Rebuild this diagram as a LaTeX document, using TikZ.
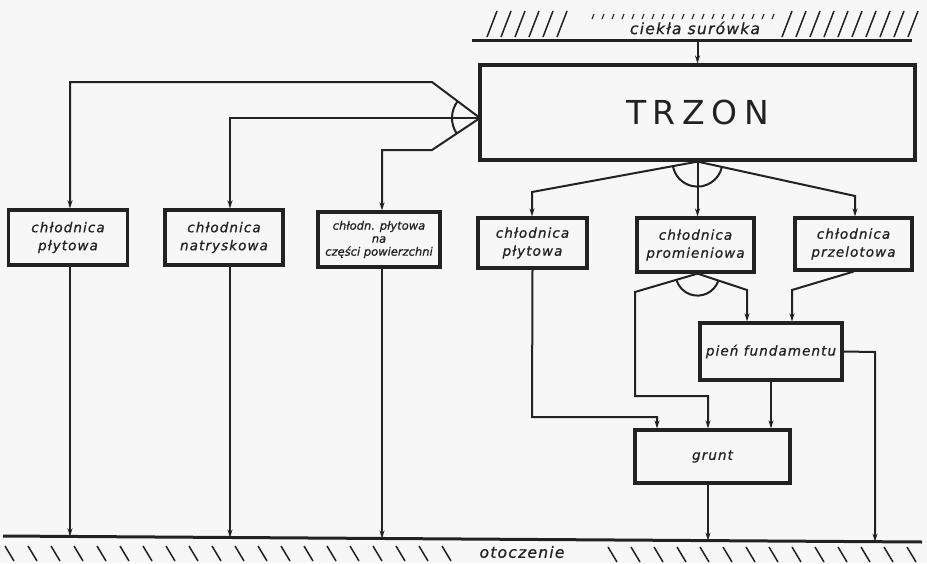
\documentclass[tikz,border=0pt]{standalone}
\usepackage{fontspec}
\newfontfamily\hw[LetterSpace=8,FakeBold=0.8]{DejaVu Sans}
\newfontfamily\hwn[LetterSpace=0,FakeBold=0.8]{DejaVu Sans}
\newfontfamily\tzf[LetterSpace=20]{DejaVu Sans}
\usetikzlibrary{arrows.meta,calc}
\definecolor{ink}{RGB}{34,34,34}
\definecolor{paper}{RGB}{247,247,247}
\begin{document}
\begin{tikzpicture}[x=1pt,y=-1pt,
  box/.style={draw=ink,line width=3.2pt,inner sep=0pt,align=center,text=ink,
    font=\hw\itshape\fontsize{13.5}{18}\selectfont},
  conn/.style={draw=ink,line width=2pt},
  arr/.style={conn,-{Stealth[length=8pt,width=5pt]}},
  hatch/.style={draw=ink,line width=1.5pt},
  ground/.style={draw=ink,line width=3pt},
  lbl/.style={text=ink,font=\hw\itshape\fontsize{15.5}{17}\selectfont,inner sep=1pt}]
\fill[paper] (0,0) rectangle (927,563);
\useasboundingbox (0,0) rectangle (927,563);

% boxes
\node[box,minimum width=435pt,minimum height=95pt] (tr) at (697.5,112.5)
  {\tzf\upshape\fontsize{33}{33}\selectfont TRZON};
\node[box,minimum width=119pt,minimum height=55pt] (b1) at (68,237.5) {chłodnica\\płytowa};
\node[box,minimum width=118pt,minimum height=55pt] (b2) at (224,237.5) {chłodnica\\natryskowa};
\node[box,minimum width=122pt,minimum height=55pt,
  font=\hwn\itshape\fontsize{11.5}{13}\selectfont] (b3) at (379,239.5)
  {chłodn. płytowa\\na\\części powierzchni};
\node[box,minimum width=109pt,minimum height=50pt] (b4) at (532.5,243) {chłodnica\\płytowa};
\node[box,minimum width=117pt,minimum height=54pt] (b5) at (695.5,245) {chłodnica\\promieniowa};
\node[box,minimum width=117pt,minimum height=52pt] (b6) at (853.5,244) {chłodnica\\przelotowa};
\node[box,minimum width=142pt,minimum height=57pt] (pf) at (771,351.5) {pień fundamentu};
\node[box,minimum width=155pt,minimum height=53pt] (gr) at (712.5,456.5) {grunt};

% top: liquid pig iron
\draw[ground] (472,40) -- (912,40);
\foreach \x in {487,501,515,529,543,557}
  \draw[hatch] (\x,37) -- ++(10,-26);
\foreach \x in {782,796,810,824,838,852,866,880,894,908}
  \draw[hatch] (\x,37) -- ++(10,-26);
\foreach \x in {592,602,...,772}
  \draw[hatch,line width=1.1pt] (\x,19) -- ++(2,-5);
\node[lbl,fill=paper] (ls) at (695,28) {ciekła surówka};
\coordinate (top) at (697.5,40);
\draw[arr] (top) -- (tr.north);

% bottom: surroundings
\draw[ground] (3,536) -- (922,542);
\foreach \x in {5,28,...,442}
  \draw[hatch] (\x,546) -- ++(9,15);
\foreach \x in {608,631,...,920}
  \draw[hatch] (\x,547) -- ++(9,15);
\node[lbl] (lo) at (522,552) {otoczenie};
\coordinate (g1) at (70,536.4);
\coordinate (g2) at (230,537.5);
\coordinate (g3) at (382,538.5);
\coordinate (g4) at (708,540.6);
\coordinate (g5) at (875,541.7);

% left fan from TRZON
\coordinate (fl) at (480,118);
\draw[arr] (fl) -- (432,82) -- (70,82) -- (70,82 |- b1.north);
\draw[arr] (fl) -- (230,118) -- (230,118 |- b2.north);
\draw[arr] (fl) -- (432,150) -- (382,150) -- (382,150 |- b3.north);
\draw[conn] (fl) ++(146:28) arc[start angle=146,end angle=217,radius=28];

% right fan from TRZON
\draw[arr] (tr.south) -- (532,192) -- (532,192 |- b4.north);
\draw[arr] (tr.south) -- (tr.south |- b5.north);
\draw[arr] (tr.south) -- (855,196) -- (855,196 |- b6.north);
\draw[conn] (tr.south) ++(13:25) arc[start angle=13,end angle=169,radius=25];

% from promieniowa
\coordinate (v5) at (tr.south |- b5.south);
\draw[arr] (v5) -- (635,292) -- (635,396) -- (708,396) -- (708,396 |- gr.north);
\draw[arr] (v5) -- (747,290) -- (747,290 |- pf.north);
\draw[conn] (v5) ++(20:22) arc[start angle=20,end angle=162,radius=22];

% from przelotowa
\draw[arr] (b6.south) -- (792,290) -- (792,290 |- pf.north);
% from plytowa (right)
\draw[arr] (b4.south) -- (532,417) -- (657,417) -- (657,417 |- gr.north);
% pien fundamentu
\draw[arr] (pf.south) -- (pf.south |- gr.north);
\draw[arr] (pf.east) -- (875,352) -- (g5);

% down to surroundings
\draw[arr] (70,0 |- b1.south) -- (g1);
\draw[arr] (230,0 |- b2.south) -- (g2);
\draw[arr] (382,0 |- b3.south) -- (g3);
\draw[arr] (708,0 |- gr.south) -- (g4);
\end{tikzpicture}
\end{document}
